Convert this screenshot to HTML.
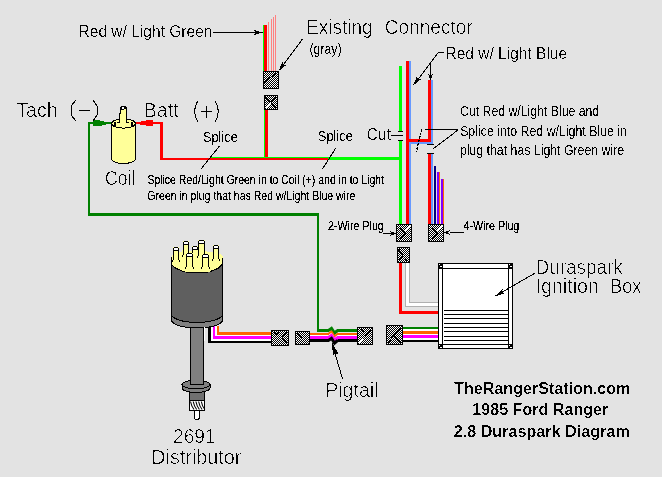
<!DOCTYPE html>
<html><head><meta charset="utf-8"><style>
html,body{margin:0;padding:0;background:#e3e3e3;}
svg{display:block;will-change:transform;}
text{font-family:"Liberation Sans",sans-serif;}
text{filter:url(#bin4);} text.t{filter:url(#bin);} text.n{filter:url(#bin2);} text.s{filter:url(#bin3);}
</style></head><body>
<svg width="662" height="477" viewBox="0 0 662 477" shape-rendering="crispEdges">
<defs><filter id="bin" x="-0.05" y="-0.15" width="1.1" height="1.3" color-interpolation-filters="sRGB"><feComponentTransfer><feFuncA type="discrete" tableValues="0 0 0 1"/></feComponentTransfer></filter><filter id="bin2" x="-0.05" y="-0.15" width="1.1" height="1.3" color-interpolation-filters="sRGB"><feComponentTransfer><feFuncA type="discrete" tableValues="0 0 1 1"/></feComponentTransfer></filter><filter id="bin4" x="-0.05" y="-0.15" width="1.1" height="1.3" color-interpolation-filters="sRGB"><feComponentTransfer><feFuncA type="discrete" tableValues="0 0 0 1 1"/></feComponentTransfer></filter><filter id="bin3" x="-0.05" y="-0.15" width="1.1" height="1.3" color-interpolation-filters="sRGB"><feComponentTransfer><feFuncA type="discrete" tableValues="0 0 1 1 1"/></feComponentTransfer></filter><pattern id="chk" width="2" height="2" patternUnits="userSpaceOnUse"><rect width="2" height="2" fill="#000"/><rect width="1" height="1" fill="#fff"/><rect x="1" y="1" width="1" height="1" fill="#fff"/></pattern></defs>
<rect width="662" height="477" fill="#e3e3e3"/>
<rect x="263" y="25" width="1" height="46" fill="#00ff00"/>
<rect x="264" y="25" width="3" height="46" fill="#ff0000"/>
<rect x="268" y="22" width="1" height="49" fill="#ff8080"/>
<rect x="271" y="19" width="1" height="52" fill="#ff8080"/>
<rect x="273" y="17" width="1" height="54" fill="#ff8080"/>
<rect x="275" y="15" width="1" height="56" fill="#ff8080"/>
<rect x="263" y="71" width="16" height="18" fill="url(#chk)"/>
<rect x="263.5" y="71.5" width="15" height="17" fill="none" stroke="#000" stroke-width="1"/>
<polyline points="264.5,82.5 276.5,72.5" fill="none" stroke="#000" stroke-width="1.3"/>
<rect x="264" y="95" width="14" height="15" fill="url(#chk)"/>
<rect x="264.5" y="95.5" width="13" height="14" fill="none" stroke="#000" stroke-width="1"/>
<polyline points="265.5,97 271,102.5 276.5,97" fill="none" stroke="#000" stroke-width="1.3"/>
<polyline points="265.5,108 271,102.5" fill="none" stroke="#fff" stroke-width="1.0"/>
<polyline points="271,102.5 276.5,108" fill="none" stroke="#000" stroke-width="1.3"/>
<rect x="264" y="110" width="1" height="47" fill="#00ff00"/>
<rect x="265" y="110" width="3" height="48" fill="#ff0000"/>
<rect x="136" y="122" width="27" height="2" fill="#ff0000"/>
<rect x="160" y="122" width="3" height="38" fill="#ff0000"/>
<rect x="160" y="158" width="168" height="2" fill="#ff0000"/>
<rect x="211" y="157" width="117" height="1" fill="#00ff00"/>
<rect x="328" y="157" width="74" height="3" fill="#00ff00"/>
<polygon points="139,121.8 149,120 153,120 153,126 149,126 139,124.3" fill="#ff0000"/>
<rect x="88" y="122" width="23" height="2" fill="#008000"/>
<polygon points="93,120 98,120 106,122 106,125 98,126 93,126" fill="#008000"/>
<rect x="88" y="122" width="2" height="94" fill="#008000"/>
<rect x="88" y="213" width="231" height="3" fill="#008000"/>
<rect x="317" y="213" width="2" height="118" fill="#008000"/>
<rect x="399" y="66" width="3" height="65" fill="#00ff00"/>
<rect x="399" y="141" width="3" height="83" fill="#00ff00"/>
<rect x="406" y="61" width="3" height="163" fill="#ff0000"/>
<rect x="409" y="61" width="2" height="163" fill="#6699ff"/>
<rect x="409" y="139" width="22" height="3" fill="#ff0000"/>
<rect x="411" y="142" width="22" height="2" fill="#6699ff"/>
<rect x="428" y="80" width="3" height="62" fill="#ff0000"/>
<rect x="431" y="80" width="2" height="64" fill="#6699ff"/>
<rect x="427" y="144" width="7" height="1" fill="#000"/>
<rect x="427" y="153" width="7" height="1" fill="#000"/>
<rect x="428" y="154" width="3" height="70" fill="#ff0000"/>
<rect x="431" y="154" width="2" height="70" fill="#6699ff"/>
<rect x="434" y="166" width="2" height="58" fill="#000080"/>
<rect x="437" y="172" width="2" height="52" fill="#8000ff"/>
<rect x="439" y="172" width="1" height="52" fill="#ff6600"/>
<rect x="441" y="179" width="2" height="45" fill="#8000ff"/>
<rect x="443" y="179" width="1" height="45" fill="#ff6600"/>
<rect x="398" y="131" width="5" height="1" fill="#000"/>
<rect x="398" y="140" width="5" height="1" fill="#000"/>
<rect x="391" y="135" width="12" height="1" fill="#000"/>
<rect x="396" y="224" width="16" height="18" fill="url(#chk)"/>
<rect x="396.5" y="224.5" width="15" height="17" fill="none" stroke="#000" stroke-width="1"/>
<polyline points="399.5,239.5 405.5,233.5" fill="none" stroke="#000" stroke-width="1.3"/>
<polyline points="404,233 410.5,225.5" fill="none" stroke="#fff" stroke-width="1.0"/>
<polyline points="400,228 404.5,233" fill="none" stroke="#000" stroke-width="1.3"/>
<rect x="428" y="224" width="16" height="18" fill="url(#chk)"/>
<rect x="428.5" y="224.5" width="15" height="17" fill="none" stroke="#000" stroke-width="1"/>
<polyline points="431.5,239.5 437.5,233.5" fill="none" stroke="#000" stroke-width="1.3"/>
<polyline points="436,233 442.5,225.5" fill="none" stroke="#fff" stroke-width="1.0"/>
<polyline points="432,228 436.5,233" fill="none" stroke="#000" stroke-width="1.3"/>
<rect x="397" y="247" width="13" height="16" fill="url(#chk)"/>
<rect x="397.5" y="247.5" width="12" height="15" fill="none" stroke="#000" stroke-width="1"/>
<polyline points="399,249 399,251 403,255 399,261" fill="none" stroke="#000" stroke-width="1.3"/>
<polyline points="408,256 405,259 408,261" fill="none" stroke="#000" stroke-width="1.3"/>
<rect x="399" y="263" width="3" height="51" fill="#ff0000"/>
<rect x="399" y="311" width="39" height="3" fill="#ff0000"/>
<rect x="405" y="263" width="1" height="44" fill="#b0b0b0"/>
<rect x="405" y="306" width="33" height="1" fill="#b0b0b0"/>
<rect x="406" y="263" width="3" height="43" fill="#fff"/>
<rect x="406" y="303" width="32" height="3" fill="#fff"/>
<rect x="409" y="263" width="1" height="40" fill="#b0b0b0"/>
<rect x="409" y="302" width="29" height="1" fill="#b0b0b0"/>
<rect x="217" y="326" width="2" height="9" fill="#ff6600"/>
<rect x="217" y="332" width="54" height="3" fill="#ff6600"/>
<rect x="215" y="326" width="2" height="9" fill="#fff"/>
<rect x="215" y="335" width="56" height="1" fill="#fff"/>
<rect x="213" y="326" width="2" height="13" fill="#ff00ff"/>
<rect x="213" y="336" width="58" height="3" fill="#ff00ff"/>
<rect x="211" y="326" width="2" height="15" fill="#fff"/>
<rect x="211" y="339" width="60" height="2" fill="#fff"/>
<rect x="208" y="326" width="3" height="17" fill="#000"/>
<rect x="208" y="341" width="63" height="2" fill="#000"/>
<rect x="310" y="333" width="19" height="2" fill="#ff6600"/>
<rect x="310" y="335" width="19" height="1" fill="#fff"/>
<rect x="310" y="336" width="19" height="3" fill="#ff00ff"/>
<rect x="310" y="339" width="19" height="3" fill="#000"/>
<rect x="337" y="333" width="20" height="2" fill="#ff6600"/>
<rect x="337" y="335" width="20" height="1" fill="#fff"/>
<rect x="337" y="336" width="20" height="3" fill="#ff00ff"/>
<rect x="337" y="339" width="20" height="3" fill="#000"/>
<rect x="317" y="329" width="12" height="3" fill="#008000"/>
<rect x="337" y="329" width="20" height="3" fill="#008000"/>
<g fill="none" shape-rendering="auto" stroke-linejoin="miter">
<polyline points="328.5,330.5 331.5,328.3 334.5,333.1 337.5,330.5" stroke="#008000" stroke-width="3"/>
<polyline points="328.5,334 331.5,331.8 334.5,336.6 337.5,334" stroke="#ff6600" stroke-width="2.2"/>
<polyline points="328.5,335.5 331.5,333.3 334.5,338.1 337.5,335.5" stroke="#fff" stroke-width="1"/>
<polyline points="328.5,337.5 331.5,335.3 334.5,340.1 337.5,337.5" stroke="#ff00ff" stroke-width="3"/>
<polyline points="328.5,340.5 331.5,338.3 334.5,343.1 337.5,340.5" stroke="#000" stroke-width="3"/>
</g>
<rect x="271" y="330" width="18" height="16" fill="url(#chk)"/>
<rect x="271.5" y="330.5" width="17" height="15" fill="none" stroke="#000" stroke-width="1"/>
<polyline points="274,332 276.5,334.5 279,332" fill="none" stroke="#000" stroke-width="1.3"/>
<polyline points="287,332 282,338 287,344" fill="none" stroke="#000" stroke-width="1.3"/>
<rect x="295" y="331" width="15" height="14" fill="url(#chk)"/>
<rect x="295.5" y="331.5" width="14" height="13" fill="none" stroke="#000" stroke-width="1"/>
<polyline points="297,333 302,338 297,343" fill="none" stroke="#000" stroke-width="1.3"/>
<rect x="357" y="327" width="16" height="18" fill="url(#chk)"/>
<rect x="357.5" y="327.5" width="15" height="17" fill="none" stroke="#000" stroke-width="1"/>
<polyline points="360,329 364,332.5" fill="none" stroke="#000" stroke-width="1.3"/>
<polyline points="365,336 371,329" fill="none" stroke="#000" stroke-width="1.3"/>
<polyline points="359,343 365,336" fill="none" stroke="#fff" stroke-width="1.0"/>
<rect x="386" y="325" width="17" height="20" fill="url(#chk)"/>
<rect x="386.5" y="325.5" width="16" height="19" fill="none" stroke="#000" stroke-width="1"/>
<polyline points="401,327 394,335 401,343" fill="none" stroke="#000" stroke-width="1.3"/>
<polyline points="388,343 394,335" fill="none" stroke="#000" stroke-width="1.3"/>
<rect x="403" y="327" width="35" height="2" fill="#008000"/>
<rect x="403" y="329" width="35" height="2" fill="#fff"/>
<rect x="403" y="331" width="35" height="3" fill="#ff6600"/>
<rect x="403" y="334" width="35" height="1" fill="#fff"/>
<rect x="403" y="335" width="35" height="3" fill="#ff00ff"/>
<rect x="403" y="338" width="35" height="2" fill="#fff"/>
<rect x="403" y="340" width="35" height="2" fill="#000"/>
<rect x="438" y="263" width="75" height="86" fill="#000"/>
<rect x="439" y="264" width="73" height="84" fill="#fff"/>
<rect x="442" y="263" width="1" height="86" fill="#000"/>
<rect x="508" y="263" width="1" height="86" fill="#000"/>
<rect x="438" y="268" width="75" height="1" fill="#000"/>
<rect x="438" y="344" width="75" height="1" fill="#000"/>
<rect x="438" y="263" width="5" height="5" fill="#000"/>
<rect x="439" y="264" width="1" height="1" fill="#fff"/>
<rect x="440" y="266" width="2" height="1" fill="#fff"/>
<rect x="508" y="263" width="5" height="5" fill="#000"/>
<rect x="509" y="264" width="1" height="1" fill="#fff"/>
<rect x="510" y="266" width="2" height="1" fill="#fff"/>
<rect x="438" y="344" width="5" height="5" fill="#000"/>
<rect x="439" y="345" width="1" height="1" fill="#fff"/>
<rect x="440" y="347" width="2" height="1" fill="#fff"/>
<rect x="508" y="344" width="5" height="5" fill="#000"/>
<rect x="509" y="345" width="1" height="1" fill="#fff"/>
<rect x="510" y="347" width="2" height="1" fill="#fff"/>
<rect x="444" y="310" width="64" height="1" fill="#000"/>
<rect x="444" y="314" width="64" height="1" fill="#000"/>
<rect x="444" y="318" width="64" height="1" fill="#000"/>
<rect x="444" y="323" width="64" height="1" fill="#000"/>
<rect x="444" y="327" width="64" height="1" fill="#000"/>
<rect x="444" y="331" width="64" height="1" fill="#000"/>
<rect x="444" y="336" width="64" height="1" fill="#000"/>
<rect x="444" y="340" width="64" height="1" fill="#000"/>
<g stroke="#000" stroke-width="1">
<path d="M111.5,124 L111.5,158.5 A12,5 0 0 0 135.5,158.5 L135.5,124 Z" fill="#ffff99"/>
<ellipse cx="123.5" cy="123.5" rx="12" ry="4.6" fill="#ffff99"/>
</g>
<rect x="120" y="107" width="6" height="16" fill="#ffff99"/>
<rect x="119" y="114" width="1" height="9" fill="#ffff99"/>
<rect x="120" y="107" width="1" height="7" fill="#000"/>
<rect x="119" y="113" width="1" height="10" fill="#000"/>
<rect x="126" y="107" width="1" height="16" fill="#000"/>
<rect x="121" y="106" width="5" height="1" fill="#000"/>
<rect x="121" y="107" width="1" height="3" fill="#000"/>
<rect x="124" y="107" width="2" height="2" fill="#000"/>
<rect x="122" y="109" width="2" height="1" fill="#000"/>
<rect x="122" y="107" width="2" height="2" fill="#fff"/>
<rect x="114" y="122" width="2" height="4" fill="#000"/>
<rect x="131" y="122" width="2" height="4" fill="#000"/>
<rect x="117" y="122" width="2" height="1" fill="#000"/>
<rect x="127" y="122" width="2" height="1" fill="#000"/>
<g stroke="#000" stroke-width="1">
<path d="M194.5,409 L194.5,417 Q194.5,419.5 197,419.5 Q199.5,419.5 199.5,417 L199.5,409 Z" fill="#fff"/>
<rect x="189.8" y="399" width="14.4" height="11.5" fill="#fff"/>
</g>
<g shape-rendering="auto" stroke="#000" stroke-width="1.1" fill="none">
<path d="M190.5,401.5 Q191.3,406 194.0,409.5"/>
<path d="M193.2,401.5 Q194.0,406 196.7,409.5"/>
<path d="M195.9,401.5 Q196.70000000000002,406 199.4,409.5"/>
<path d="M198.6,401.5 Q199.4,406 202.1,409.5"/>
<path d="M201.3,401.5 Q202.10000000000002,406 204.8,409.5"/>
</g>
<g stroke="#000" stroke-width="1">
<rect x="189.5" y="390" width="15" height="10" fill="#707070"/>
<path d="M182,384.5 L182,388 A14,4.5 0 0 0 210,388 L210,384.5 Z" fill="#808080"/>
<ellipse cx="196" cy="384.5" rx="14" ry="4.3" fill="#808080"/>
<rect x="190.5" y="320" width="13" height="64" fill="#808080"/>
<path d="M171.5,312 L171.5,320 A25.5,8 0 0 0 222.5,320 L222.5,312 Z" fill="#808080"/>
<path d="M171.5,262 L171.5,314 A25.5,8.5 0 0 0 222.5,314 L222.5,262 Z" fill="#5f5f5f"/>
<path d="M171.5,262 L171.5,256 C171.5,249.5 222.5,249.5 222.5,256 L222.5,262 A25.5,11 0 0 1 171.5,262 Z" fill="#ffff99" stroke="none"/>
<path d="M171.5,262 A25.5,11 0 0 0 222.5,262" fill="none"/>
<path d="M171.5,263 L171.5,256.5 M222.5,263 L222.5,257.5" fill="none"/>
</g>
<rect x="204" y="327" width="1" height="14" fill="#fff"/>
<polygon points="173,247 179,247 180,265 172,265" fill="#ffff99"/>
<polyline points="173.5,248 173.5,258 172.5,262" fill="none" stroke="#000" stroke-width="1"/>
<polyline points="178.5,248 178.5,258 179.5,262" fill="none" stroke="#000" stroke-width="1"/>
<rect x="174" y="247" width="4" height="1" fill="#000"/>
<rect x="174" y="248" width="4" height="2" fill="#fff"/>
<rect x="174" y="250" width="4" height="1" fill="#000"/>
<polygon points="183,241 189,241 190,260 182,260" fill="#ffff99"/>
<polyline points="183.5,242 183.5,253 182.5,257" fill="none" stroke="#000" stroke-width="1"/>
<polyline points="188.5,242 188.5,253 189.5,257" fill="none" stroke="#000" stroke-width="1"/>
<rect x="184" y="241" width="4" height="1" fill="#000"/>
<rect x="184" y="242" width="4" height="2" fill="#fff"/>
<rect x="184" y="244" width="4" height="1" fill="#000"/>
<polygon points="192,246 198,246 199,263 191,263" fill="#ffff99"/>
<polyline points="192.5,247 192.5,256 191.5,260" fill="none" stroke="#000" stroke-width="1"/>
<polyline points="197.5,247 197.5,256 198.5,260" fill="none" stroke="#000" stroke-width="1"/>
<rect x="193" y="246" width="4" height="1" fill="#000"/>
<rect x="193" y="247" width="4" height="2" fill="#fff"/>
<rect x="193" y="249" width="4" height="1" fill="#000"/>
<polygon points="198,240 205,240 206,261 197,261" fill="#ffff99"/>
<polyline points="198.5,241 198.5,254 197.5,258" fill="none" stroke="#000" stroke-width="1"/>
<polyline points="204.5,241 204.5,254 205.5,258" fill="none" stroke="#000" stroke-width="1"/>
<rect x="199" y="240" width="5" height="1" fill="#000"/>
<rect x="199" y="241" width="5" height="2" fill="#fff"/>
<rect x="199" y="243" width="5" height="1" fill="#000"/>
<polygon points="213,245 219,245 220,264 212,264" fill="#ffff99"/>
<polyline points="213.5,246 213.5,257 212.5,261" fill="none" stroke="#000" stroke-width="1"/>
<polyline points="218.5,246 218.5,257 219.5,261" fill="none" stroke="#000" stroke-width="1"/>
<rect x="214" y="245" width="4" height="1" fill="#000"/>
<rect x="214" y="246" width="4" height="2" fill="#fff"/>
<rect x="214" y="248" width="4" height="1" fill="#000"/>
<polygon points="186,253 193,253 194,272 185,272" fill="#ffff99"/>
<polyline points="186.5,254 186.5,265 185.5,269" fill="none" stroke="#000" stroke-width="1"/>
<polyline points="192.5,254 192.5,265 193.5,269" fill="none" stroke="#000" stroke-width="1"/>
<rect x="187" y="253" width="5" height="1" fill="#000"/>
<rect x="187" y="254" width="5" height="2" fill="#fff"/>
<rect x="187" y="256" width="5" height="1" fill="#000"/>
<polygon points="202,254 209,254 210,272 201,272" fill="#ffff99"/>
<polyline points="202.5,255 202.5,265 201.5,269" fill="none" stroke="#000" stroke-width="1"/>
<polyline points="208.5,255 208.5,265 209.5,269" fill="none" stroke="#000" stroke-width="1"/>
<rect x="203" y="254" width="5" height="1" fill="#000"/>
<rect x="203" y="255" width="5" height="2" fill="#fff"/>
<rect x="203" y="257" width="5" height="1" fill="#000"/>
<g>
<line x1="213" y1="32.5" x2="258" y2="32.5" stroke="#000" stroke-width="1" />
<polygon points="262.80,32.50 253.80,35.10 256.30,32.50 253.80,29.90" fill="#000"/>
<line x1="302.5" y1="39" x2="281" y2="68" stroke="#000" stroke-width="1" />
<polygon points="278.60,71.20 282.47,61.62 283.37,64.78 286.65,64.72" fill="#000"/>
<line x1="444" y1="52.5" x2="438.4" y2="52.5" stroke="#000" stroke-width="1" />
<line x1="438.4" y1="52.5" x2="416" y2="82" stroke="#000" stroke-width="1" />
<polygon points="413.00,85.60 416.98,76.07 417.84,79.23 421.12,79.21" fill="#000"/>
<line x1="430.5" y1="64" x2="430.5" y2="76" stroke="#000" stroke-width="1" />
<polygon points="430.50,80.50 427.90,73.50 430.50,75.50 433.10,73.50" fill="#000"/>
<line x1="421.6" y1="129" x2="416.4" y2="151.7" stroke="#000" stroke-width="1.3" stroke-dasharray="2.5 1.2"/>
<line x1="425" y1="129.5" x2="458" y2="129.5" stroke="#000" stroke-width="1" />
<line x1="458" y1="130" x2="433.2" y2="148.7" stroke="#000" stroke-width="1" />
<line x1="219.5" y1="146" x2="201" y2="169" stroke="#000" stroke-width="1" />
<line x1="335.8" y1="148" x2="322.4" y2="169.1" stroke="#000" stroke-width="1" />
<line x1="383" y1="233.5" x2="392" y2="233.5" stroke="#000" stroke-width="1" />
<polygon points="396.00,233.50 390.00,236.00 391.50,233.50 390.00,231.00" fill="#000"/>
<line x1="464" y1="232.5" x2="450" y2="232.5" stroke="#000" stroke-width="1" />
<polygon points="444.00,232.50 450.00,230.00 448.50,232.50 450.00,235.00" fill="#000"/>
<line x1="535" y1="273.2" x2="498" y2="294.4" stroke="#000" stroke-width="1" />
<polygon points="494.20,296.60 502.60,289.13 502.01,292.12 504.89,293.12" fill="#000"/>
<line x1="342.5" y1="378.8" x2="334" y2="350" stroke="#000" stroke-width="1" />
<polygon points="332.00,342.00 338.26,353.73 335.29,353.54 332.87,355.27" fill="#000"/>
</g>
<g fill="#000">
<text x="78.52" y="37" font-size="16.5" font-weight="normal" textLength="133.99" lengthAdjust="spacingAndGlyphs" class="">Red&#160;w/&#160;Light&#160;Green</text>
<text x="445.53" y="58.9" font-size="16.5" font-weight="normal" textLength="121.56" lengthAdjust="spacingAndGlyphs" class="">Red&#160;w/&#160;Light&#160;Blue</text>
<text x="366.81" y="140" font-size="17" font-weight="normal" textLength="24.31" lengthAdjust="spacingAndGlyphs" class="">Cut</text>
<text x="202.92" y="141.5" font-size="15" font-weight="normal" textLength="34.95" lengthAdjust="spacingAndGlyphs" class="n">Splice</text>
<text x="317.81" y="141.1" font-size="15" font-weight="normal" textLength="35.16" lengthAdjust="spacingAndGlyphs" class="n">Splice</text>
<text x="309.54" y="53.5" font-size="14.6" font-weight="normal" textLength="32.02" lengthAdjust="spacingAndGlyphs" class="n">(gray)</text>
<text x="460.08" y="115.6" font-size="14.8" font-weight="normal" textLength="139.11" lengthAdjust="spacingAndGlyphs" class="n">Cut&#160;Red&#160;w/Light&#160;Blue&#160;and</text>
<text x="460.14" y="135.6" font-size="14.8" font-weight="normal" textLength="166.86" lengthAdjust="spacingAndGlyphs" class="n">Splice&#160;into&#160;Red&#160;w/Light&#160;Blue&#160;in</text>
<text x="459.91" y="155.3" font-size="14.8" font-weight="normal" textLength="164.24" lengthAdjust="spacingAndGlyphs" class="n">plug&#160;that&#160;has&#160;Light&#160;Green&#160;wire</text>
<text x="147.42" y="184.2" font-size="12" font-weight="normal" textLength="236.65" lengthAdjust="spacingAndGlyphs" class="s">Splice&#160;Red/Light&#160;Green&#160;in&#160;to&#160;Coil&#160;(+)&#160;and&#160;in&#160;to&#160;Light</text>
<text x="147.37" y="200.1" font-size="12" font-weight="normal" textLength="208.00" lengthAdjust="spacingAndGlyphs" class="s">Green&#160;in&#160;plug&#160;that&#160;has&#160;Red&#160;w/Light&#160;Blue&#160;wire</text>
<text x="327.96" y="229.7" font-size="12" font-weight="normal" textLength="55.83" lengthAdjust="spacingAndGlyphs" class="s">2-Wire&#160;Plug</text>
<text x="463.56" y="229.5" font-size="12" font-weight="normal" textLength="55.73" lengthAdjust="spacingAndGlyphs" class="s">4-Wire&#160;Plug</text>
<text x="454.12" y="394.4" font-size="16" font-weight="bold" textLength="176.28" lengthAdjust="spacingAndGlyphs" class="">TheRangerStation.com</text>
<text x="472.29" y="415.4" font-size="16" font-weight="bold" textLength="136.06" lengthAdjust="spacingAndGlyphs" class="">1985&#160;Ford&#160;Ranger</text>
<text x="453.74" y="436.6" font-size="16" font-weight="bold" textLength="176.06" lengthAdjust="spacingAndGlyphs" class="">2.8&#160;Duraspark&#160;Diagram</text>
<text x="306.04" y="33.9" font-size="20" font-weight="normal" textLength="66.48" lengthAdjust="spacingAndGlyphs" class="t">Existing</text>
<text x="384.73" y="33.9" font-size="20" font-weight="normal" textLength="87.98" lengthAdjust="spacingAndGlyphs" class="t">Connector</text>
<text x="16.18" y="117" font-size="20" font-weight="normal" textLength="41.43" lengthAdjust="spacingAndGlyphs" class="t">Tach</text>
<text x="143.69" y="117.4" font-size="20" font-weight="normal" textLength="34.96" lengthAdjust="spacingAndGlyphs" class="t">Batt</text>
<text x="105.00" y="184.7" font-size="20" font-weight="normal" textLength="30.37" lengthAdjust="spacingAndGlyphs" class="t">Coil</text>
<text x="535.86" y="273.7" font-size="20" font-weight="normal" textLength="86.71" lengthAdjust="spacingAndGlyphs" class="t">Duraspark</text>
<text x="535.59" y="292.9" font-size="20" font-weight="normal" textLength="63.29" lengthAdjust="spacingAndGlyphs" class="t">Ignition</text>
<text x="610.33" y="292.9" font-size="20" font-weight="normal" textLength="30.97" lengthAdjust="spacingAndGlyphs" class="t">Box</text>
<text x="325.19" y="397.2" font-size="20" font-weight="normal" textLength="53.32" lengthAdjust="spacingAndGlyphs" class="t">Pigtail</text>
<text x="173.03" y="442.7" font-size="20" font-weight="normal" textLength="42.70" lengthAdjust="spacingAndGlyphs" class="t">2691</text>
<text x="151.28" y="463.6" font-size="20" font-weight="normal" textLength="90.05" lengthAdjust="spacingAndGlyphs" class="t">Distributor</text>
</g>
<g fill="none" stroke="#000" stroke-width="1">
<polyline points="76,100 71,106 71,115 76,121"/>
<polyline points="93,100 97,106 97,115 93,121"/>
<line x1="79" y1="110.5" x2="90" y2="110.5"/>
<path d="M197.7,101 Q191.5,111.4 197.7,121.7"/>
<path d="M215.2,101 Q221.4,111.4 215.2,121.7"/>
<line x1="201" y1="111.4" x2="212" y2="111.4"/>
<line x1="206.5" y1="106" x2="206.5" y2="117.8"/>
</g>
</svg>
</body></html>
